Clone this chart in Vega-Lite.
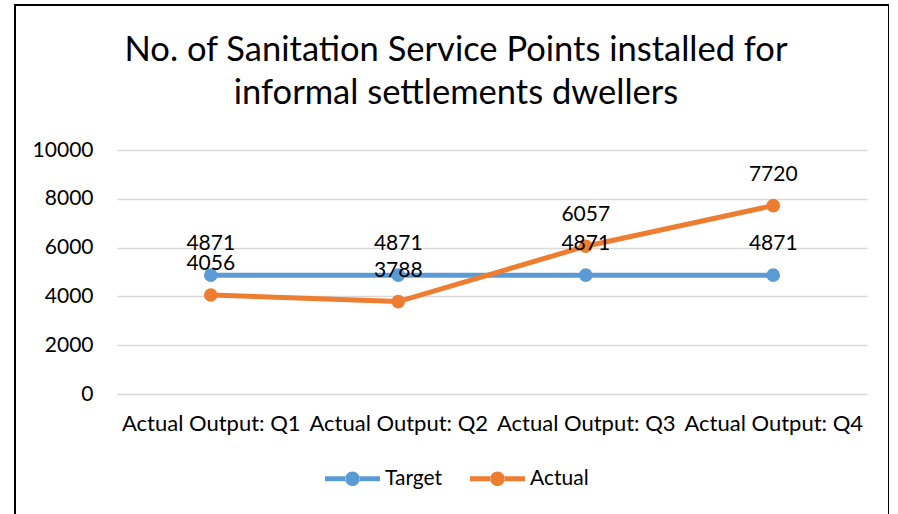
{
  "$schema": "https://vega.github.io/schema/vega-lite/v6.json",
  "width": 874,
  "height": 520,
  "autosize": {"type": "none"},
  "padding": {"left": 15, "top": 5, "right": 0, "bottom": 0},
  "background": "white",
  "config": {
    "view": {"stroke": "#000000", "strokeWidth": 2},
    "font": "Lato"
  },
  "title": {
    "text": ["No. of Sanitation Service Points installed for", "informal settlements dwellers"],
    "font": "Lato",
    "fontSize": 34.5,
    "fontWeight": "normal",
    "color": "#000000",
    "anchor": "middle",
    "baseline": "alphabetic",
    "offset": 0,
    "dy": 133,
    "dx": 4,
    "lineHeight": 43
  },
  "data": {
    "values": [
      {"quarter": "Actual Output: Q1", "series": "Target", "value": 4871},
      {"quarter": "Actual Output: Q2", "series": "Target", "value": 4871},
      {"quarter": "Actual Output: Q3", "series": "Target", "value": 4871},
      {"quarter": "Actual Output: Q4", "series": "Target", "value": 4871},
      {"quarter": "Actual Output: Q1", "series": "Actual", "value": 4056},
      {"quarter": "Actual Output: Q2", "series": "Actual", "value": 3788},
      {"quarter": "Actual Output: Q3", "series": "Actual", "value": 6057},
      {"quarter": "Actual Output: Q4", "series": "Actual", "value": 7720}
    ]
  },
  "encoding": {
    "x": {
      "field": "quarter",
      "type": "nominal",
      "sort": null,
      "scale": {"type": "point", "domain": ["Actual Output: Q1", "Actual Output: Q2", "Actual Output: Q3", "Actual Output: Q4"], "range": [102, 852], "padding": 0.5},
      "axis": {
        "orient": "bottom",
        "offset": -131,
        "title": null,
        "domain": false,
        "ticks": false,
        "grid": false,
        "labelAngle": 0,
        "labelFont": "Lato",
        "labelFontSize": 22,
        "labelColor": "#000000",
        "labelPadding": 19,
        "labelBaseline": "top"
      }
    },
    "y": {
      "field": "value",
      "type": "quantitative",
      "scale": {"domain": [0, 10000], "range": [389, 145], "nice": false},
      "axis": {
        "orient": "left",
        "offset": -102,
        "title": null,
        "domain": false,
        "grid": false,
        "values": [0, 2000, 4000, 6000, 8000, 10000],
        "format": "d",
        "ticks": true,
        "tickSize": -750,
        "tickColor": "#D9D9D9",
        "tickWidth": 1.5,
        "labelFont": "Lato",
        "labelFontSize": 21,
        "labelColor": "#000000",
        "labelPadding": 774
      }
    },
    "color": {
      "field": "series",
      "type": "nominal",
      "scale": {"domain": ["Target", "Actual"], "range": ["#5B9BD5", "#ED7D31"]},
      "legend": {
        "title": null,
        "orient": "none",
        "legendX": 310,
        "legendY": 446,
        "direction": "horizontal",
        "symbolType": "M-1,-0.09H-0.25V0.09H-1Z M0.25,-0.09H1V0.09H0.25Z M-0.265,0A0.265,0.265 0 1,0 0.265,0A0.265,0.265 0 1,0 -0.265,0Z",
        "symbolSize": 3025,
        "symbolStrokeWidth": 0,
        "symbolOpacity": 1,
        "labelFont": "Lato",
        "labelFontSize": 21,
        "labelColor": "#000000",
        "labelOffset": 5,
        "columnPadding": 27,
        "encode": {
          "symbols": {"update": {"fill": {"signal": "scale('color', datum.value)"}, "strokeWidth": {"value": 0}}}
        }
      }
    }
  },
  "layer": [
    {
      "mark": {"type": "line", "strokeWidth": 5, "strokeCap": "round"}
    },
    {
      "mark": {"type": "point", "filled": true, "size": 185, "opacity": 1}
    },
    {
      "mark": {"type": "text", "dy": -31, "baseline": "middle", "font": "Lato", "fontSize": 21, "color": "#000000"},
      "encoding": {
        "text": {"field": "value", "type": "quantitative", "format": "d"},
        "color": {"value": "#000000"}
      }
    }
  ]
}
